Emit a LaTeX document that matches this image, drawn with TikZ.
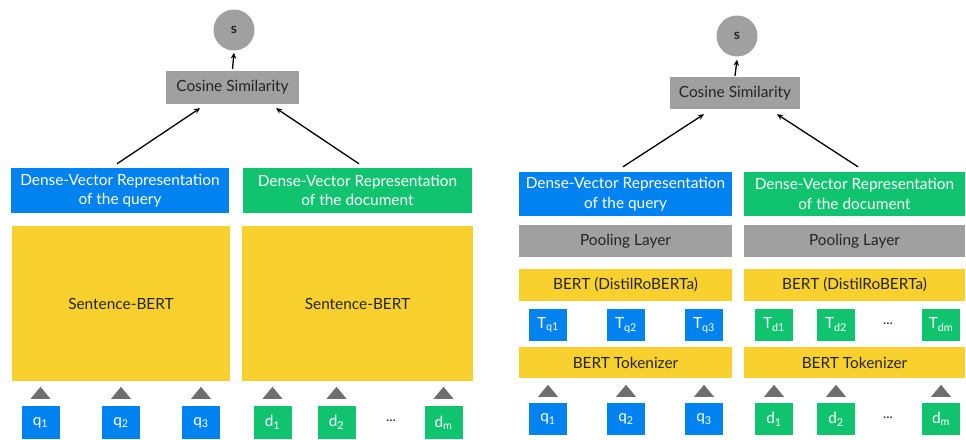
\documentclass[tikz,border=0pt]{standalone}
\usepackage{fontspec}
\setmainfont{Lato}
\usetikzlibrary{arrows.meta}
\definecolor{qblue}{HTML}{0082F0}
\definecolor{dgreen}{HTML}{10C36F}
\definecolor{yel}{HTML}{F8D12F}
\definecolor{boxgray}{HTML}{A0A0A0}
\definecolor{trigray}{HTML}{6E6E6E}
\definecolor{txt}{HTML}{242424}
\begin{document}
\begin{tikzpicture}[x=1pt,y=-1pt,
 box/.style={rectangle, inner sep=0pt, align=center, font=\fontsize{15.4}{19.5}\selectfont},
 qbox/.style={box, fill=qblue, text=white},
 dbox/.style={box, fill=dgreen, text=white},
 ybox/.style={box, fill=yel, text=txt},
 gbox/.style={box, fill=boxgray, text=txt},
 tok/.style={minimum width=38pt, minimum height=33pt},
 ttok/.style={minimum width=38pt, minimum height=32pt},
 arr/.style={-{Stealth[length=6pt,width=5.5pt]}, line width=1.3pt, black},
 scirc/.style={circle, fill=boxgray, inner sep=0pt, minimum size=41pt, font=\bfseries\fontsize{14}{16}\selectfont, text=txt},
 dots/.style={inner sep=0pt, font=\fontsize{14}{16}\selectfont, text=txt},
 uptri/.pic={\fill[trigray] (-10pt,0pt) -- (10pt,0pt) -- (0pt,12pt) -- cycle;}
]
\useasboundingbox (0,0) rectangle (966,439);

% ---------------- left ----------------
\node[scirc] (sL) at (234,30) {s};
\node[gbox, minimum width=133pt, minimum height=33pt] (cosL) at (232.5,87.5) {Cosine Similarity};
\node[qbox, minimum width=218pt, minimum height=45pt] (dqL) at (120,190.5) {Dense-Vector Representation\\of the query};
\node[dbox, minimum width=229pt, minimum height=45pt] (ddL) at (357.5,190.5) {Dense-Vector Representation\\of the document};
\node[ybox, minimum width=218pt, minimum height=155pt] (sbQ) at (121,303.5) {Sentence-BERT};
\node[ybox, minimum width=231pt, minimum height=155pt] (sbD) at (357.5,303.5) {Sentence-BERT};

\node[qbox, tok] (q1L) at (40.5,422.5) {q\textsubscript{1}};
\node[qbox, tok] (q2L) at (121,422.5) {q\textsubscript{2}};
\node[qbox, tok] (q3L) at (201,422.5) {q\textsubscript{3}};
\node[dbox, tok] (d1L) at (272.5,422.5) {d\textsubscript{1}};
\node[dbox, tok] (d2L) at (336.5,422.5) {d\textsubscript{2}};
\node[dots] (dotsL) at (391,421) {...};
\node[dbox, tok] (dmL) at (443.5,422.5) {d\textsubscript{m}};
\foreach \n in {q1L,q2L,q3L,d1L,d2L,dmL}
  \pic at ([yshift=7pt]\n.north) {uptri};

\draw[arr] ([yshift=2pt]cosL.north) -- ([yshift=-2pt]sL.south);
\draw[arr] ([xshift=-3pt,yshift=4pt]dqL.north) -- ([xshift=-32.5pt,yshift=-4pt]cosL.south);
\draw[arr] ([xshift=1.5pt,yshift=4pt]ddL.north) -- ([xshift=43.5pt,yshift=-4pt]cosL.south);

% ---------------- right ----------------
\node[scirc] (sR) at (737,36) {s};
\node[gbox, minimum width=130pt, minimum height=32pt] (cosR) at (735,93) {Cosine Similarity};
\node[qbox, minimum width=213pt, minimum height=44pt] (dqR) at (625.5,194) {Dense-Vector Representation\\of the query};
\node[dbox, minimum width=221pt, minimum height=44pt] (ddR) at (854.5,194) {Dense-Vector Representation\\of the document};
\node[gbox, minimum width=213pt, minimum height=32pt] (poolQ) at (625.5,241) {Pooling Layer};
\node[gbox, minimum width=221pt, minimum height=32pt] (poolD) at (854.5,241) {Pooling Layer};
\node[ybox, minimum width=213pt, minimum height=32pt] (bertQ) at (625.5,285) {BERT (DistilRoBERTa)};
\node[ybox, minimum width=221pt, minimum height=32pt] (bertD) at (854.5,285) {BERT (DistilRoBERTa)};

\node[qbox, ttok] (tq1) at (548,325) {T\textsubscript{q1}};
\node[qbox, ttok] (tq2) at (626,325) {T\textsubscript{q2}};
\node[qbox, ttok] (tq3) at (704,325) {T\textsubscript{q3}};
\node[dbox, ttok] (td1) at (774,325) {T\textsubscript{d1}};
\node[dbox, ttok] (td2) at (836,325) {T\textsubscript{d2}};
\node[dots] (dotsT) at (888,323.5) {...};
\node[dbox, ttok] (tdm) at (941,325) {T\textsubscript{dm}};

\node[ybox, minimum width=213pt, minimum height=31pt] (tokQ) at (625.5,362.5) {BERT Tokenizer};
\node[ybox, minimum width=221pt, minimum height=31pt] (tokD) at (854.5,362.5) {BERT Tokenizer};

\node[qbox, ttok] (q1R) at (548,419) {q\textsubscript{1}};
\node[qbox, ttok] (q2R) at (626,419) {q\textsubscript{2}};
\node[qbox, ttok] (q3R) at (704,419) {q\textsubscript{3}};
\node[dbox, ttok] (d1R) at (774,419) {d\textsubscript{1}};
\node[dbox, ttok] (d2R) at (836,419) {d\textsubscript{2}};
\node[dots] (dotsR) at (888,417.5) {...};
\node[dbox, ttok] (dmR) at (941,419) {d\textsubscript{m}};
\foreach \n in {q1R,q2R,q3R,d1R,d2R,dmR}
  \pic at ([yshift=6pt]\n.north) {uptri};

\draw[arr] ([yshift=1pt]cosR.north) -- ([yshift=-3pt]sR.south);
\draw[arr] ([xshift=-2.5pt,yshift=5pt]dqR.north) -- ([xshift=-31pt,yshift=-5pt]cosR.south);
\draw[arr] ([xshift=3.5pt,yshift=5pt]ddR.north) -- ([xshift=42pt,yshift=-5pt]cosR.south);
\end{tikzpicture}
\end{document}
